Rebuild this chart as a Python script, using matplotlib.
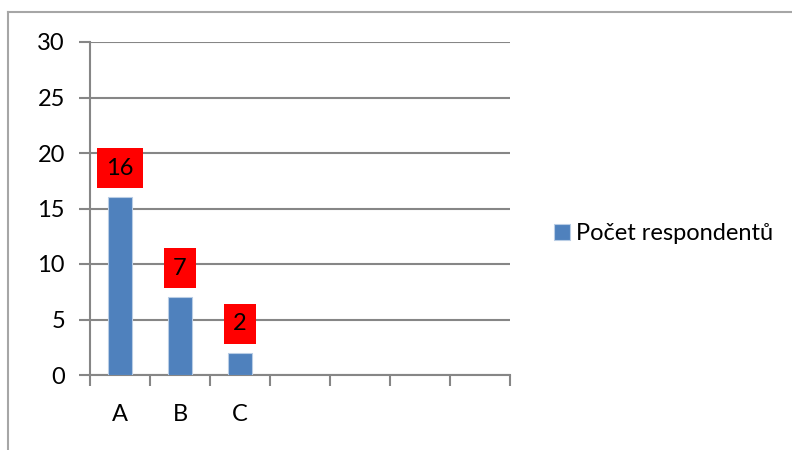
import matplotlib
matplotlib.use("Agg")
import matplotlib.pyplot as plt
from matplotlib.lines import Line2D

plt.rcParams['font.family'] = ['Lato', 'DejaVu Sans']

categories = ["A", "B", "C", "", "", "", ""]
values = [16, 7, 2]
series_name = "Počet respondentů"
y_ticks = [0, 5, 10, 15, 20, 25, 30]

grid_col = "#868686"
bar_col = "#4F81BD"

fig = plt.figure(figsize=(7.92, 4.5), dpi=100)
ax = fig.add_axes([90 / 792, 75 / 450, 420 / 792, 333 / 450])

n = len(categories)
xs = list(range(len(values)))
bars = ax.bar(xs, values, width=0.4, color=bar_col, edgecolor="#B9CDE5",
              linewidth=0.8, zorder=3, label=series_name)

ax.set_xlim(-0.5, n - 0.5)
ax.set_ylim(0, 30)
ax.set_yticks(y_ticks)
ax.set_xticks(range(n))
ax.set_xticklabels(categories)
ax.set_xticks([i - 0.5 for i in range(n + 1)], minor=True)

ax.yaxis.grid(True, color=grid_col, linewidth=1.5, zorder=0)
for s in ["top", "right"]:
    ax.spines[s].set_visible(False)
for s in ["left", "bottom"]:
    ax.spines[s].set_color(grid_col)
    ax.spines[s].set_linewidth(1.5)

ax.tick_params(axis="y", length=8, width=1.5, color=grid_col, labelsize=17, pad=10)
ax.tick_params(axis="x", which="major", length=0, labelsize=17, pad=21)
ax.tick_params(axis="x", which="minor", length=8, width=1.5, color=grid_col)

for x, v in zip(xs, values):
    ax.annotate(str(v), xy=(x, v), xytext=(0, 29), textcoords="offset pixels",
                ha="center", va="center", fontsize=17, color="black", zorder=5,
                bbox=dict(boxstyle="square,pad=0.4", facecolor="red", edgecolor="none"))

leg = fig.legend(handles=[bars], labels=[series_name], loc="center left",
                 bbox_to_anchor=(545 / 792, 1 - 234 / 450), frameon=False,
                 fontsize=17, handlelength=0.65, handleheight=0.65,
                 handletextpad=0.25, borderaxespad=0)

# outer chart-area frame
fig.add_artist(Line2D([8 / 792, 8 / 792], [0, 1 - 12 / 450], color="#A6A6A6", linewidth=1.5,
                      transform=fig.transFigure))
fig.add_artist(Line2D([8 / 792, 1], [1 - 12 / 450, 1 - 12 / 450], color="#A6A6A6", linewidth=1.5,
                      transform=fig.transFigure))

fig.savefig("out.png", dpi=100)
